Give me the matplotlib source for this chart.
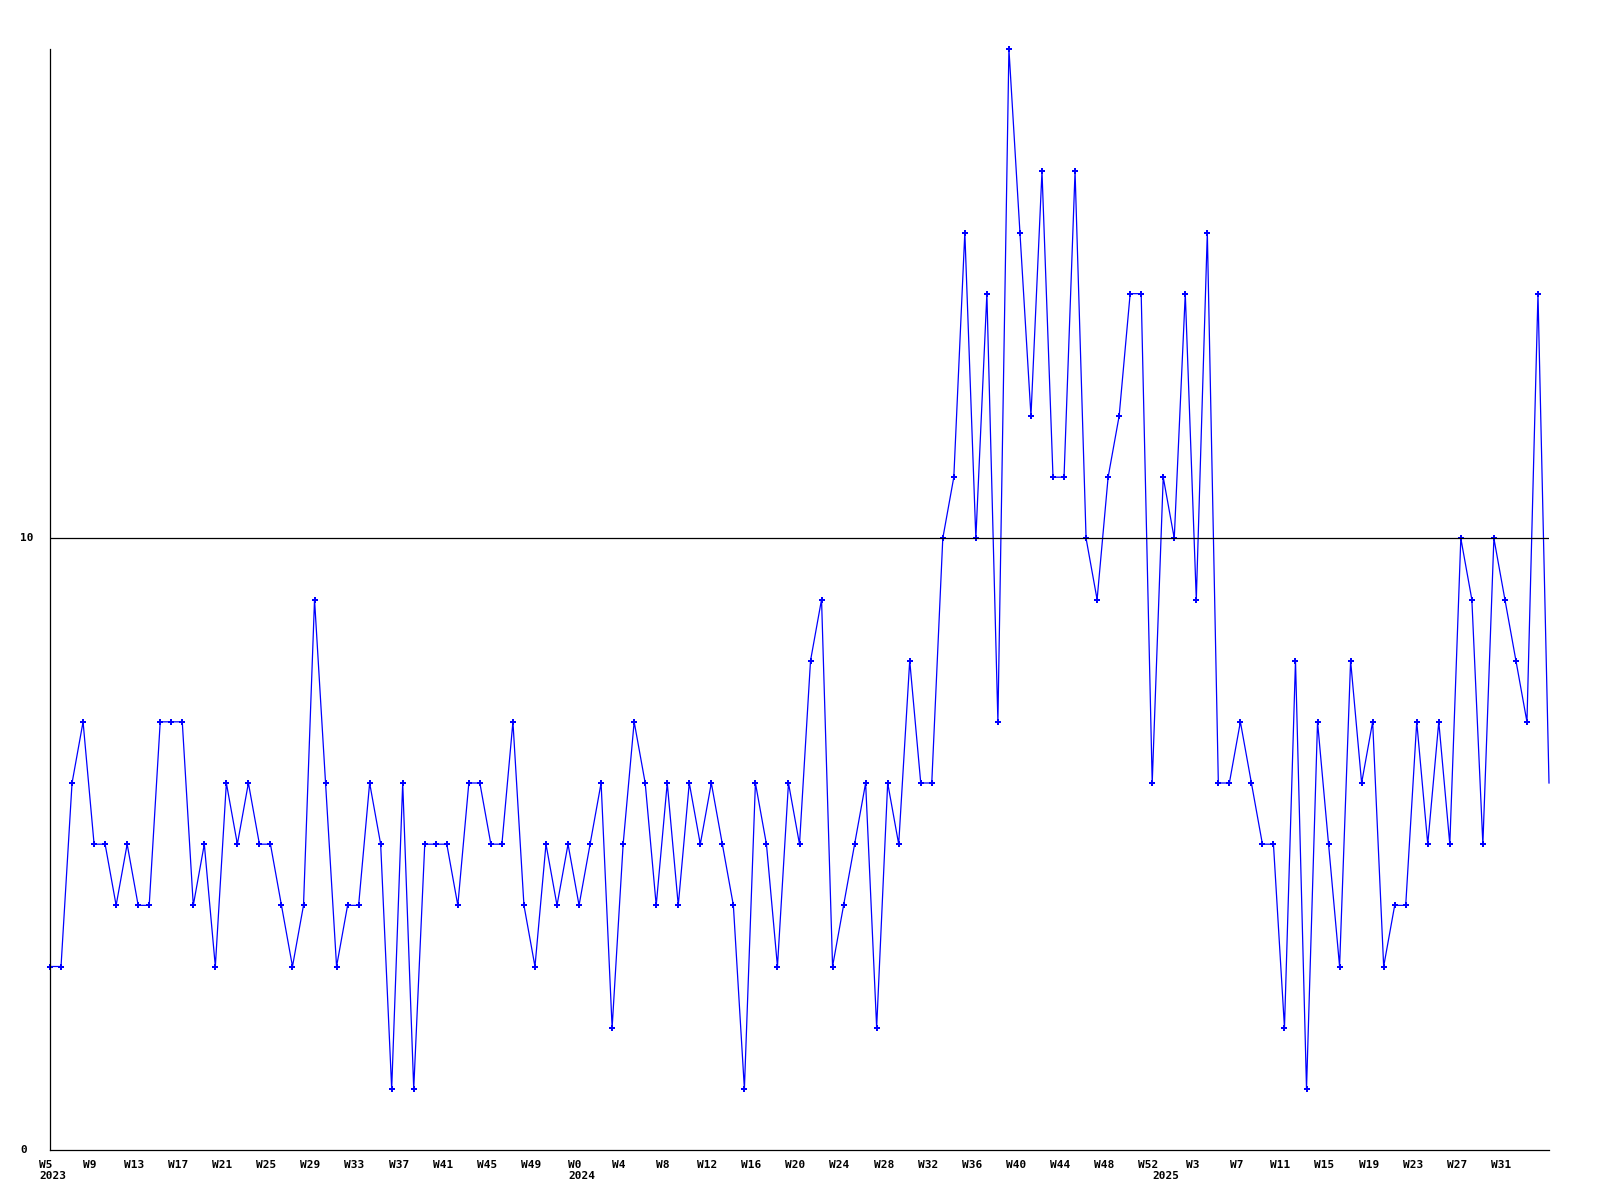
import matplotlib
matplotlib.use("Agg")
import matplotlib.pyplot as plt
import matplotlib.transforms as mtransforms

# weekly counts, 2023 W5 .. 2025 W35
counts = [3, 3, 6, 7, 5, 5, 4, 5, 4, 4, 7, 7, 7, 4, 5, 3, 6, 5, 6, 5,
          5, 4, 3, 4, 9, 6, 3, 4, 4, 6, 5, 1, 6, 1, 5, 5, 5, 4, 6, 6,
          5, 5, 7, 4, 3, 5, 4, 5, 4, 5, 6, 2, 5, 7, 6, 4, 6, 4, 6, 5,
          6, 5, 4, 1, 6, 5, 3, 6, 5, 8, 9, 3, 4, 5, 6, 2, 6, 5, 8, 6,
          6, 10, 11, 15, 10, 14, 7, 18, 15, 12, 16, 11, 11, 16, 10, 9, 11, 12, 14, 14,
          6, 11, 10, 14, 9, 15, 6, 6, 7, 6, 5, 5, 2, 8, 1, 7, 5, 3, 8, 6,
          7, 3, 4, 4, 7, 5, 7, 5, 10, 9, 5, 10, 9, 8, 7, 14, 6]

week_labels = ["W5", "W9", "W13", "W17", "W21", "W25", "W29", "W33", "W37", "W41",
               "W45", "W49", "W0", "W4", "W8", "W12", "W16", "W20", "W24", "W28",
               "W32", "W36", "W40", "W44", "W48", "W52", "W3", "W7", "W11", "W15",
               "W19", "W23", "W27", "W31"]
week_ticks = list(range(0, 4 * len(week_labels), 4))

years = ["2023", "2024", "2025"]
year_pos = [0, 48, 101]

blue = "#0000ff"
font = dict(family="DejaVu Sans Mono", weight="bold", size=8)

fig = plt.figure(figsize=(16, 12), dpi=100)
ax = fig.add_axes([50 / 1600, 50 / 1200, 1499 / 1600, 1101 / 1200])

x = list(range(len(counts)))
# last week is still running: no marker
ax.plot(x, counts, color=blue, linewidth=0.9, marker="P", markersize=4.6,
        markeredgewidth=0, markevery=list(range(len(counts) - 1)), clip_on=False)

ax.axhline(10, color="black", linewidth=0.9)

ax.set_xlim(0, len(counts) - 1)
ax.set_ylim(0, 18)

for s in ["top", "right"]:
    ax.spines[s].set_visible(False)
for s in ["left", "bottom"]:
    ax.spines[s].set_linewidth(0.9)

ax.set_yticks([])
ax.set_xticks(week_ticks)
ax.set_xticklabels(week_labels, **font)
ax.tick_params(axis="x", length=0, pad=7)
shift = mtransforms.ScaledTranslation(-4 / 100, 0, fig.dpi_scale_trans)
for lab in ax.get_xticklabels():
    lab.set_transform(lab.get_transform() + shift)

# y labels, left aligned
for v in [0, 10]:
    ax.annotate(str(v), xy=(0, v), xycoords=("axes fraction", "data"),
                xytext=(-30, 0), textcoords="offset pixels",
                ha="left", va="center", **font)

# year labels under the week labels
for yr, p in zip(years, year_pos):
    ax.annotate(yr, xy=(p, 0), xycoords=("data", "axes fraction"),
                xytext=(-11, -26), textcoords="offset pixels",
                ha="left", va="center", **font)

fig.savefig("out.png", dpi=100)
